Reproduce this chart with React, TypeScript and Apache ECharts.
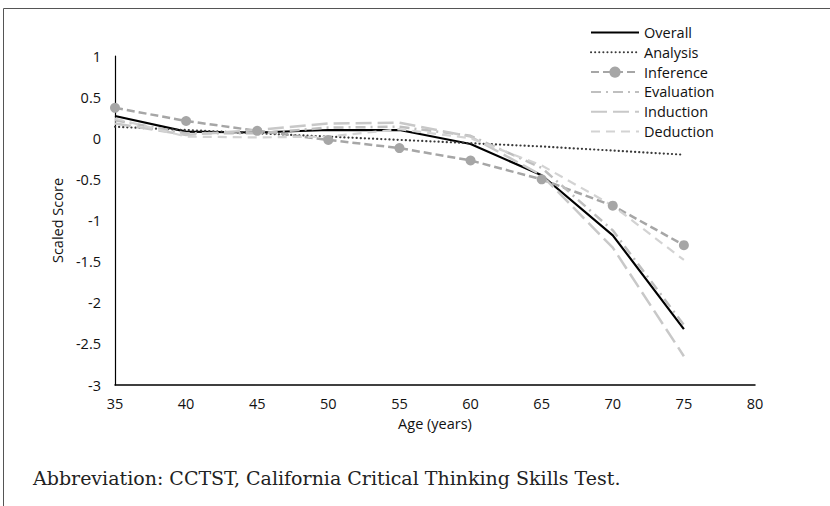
import React, { useEffect, useRef } from "react";
import * as echarts from "echarts";

const ages = [35, 40, 45, 50, 55, 60, 65, 70, 75];
const overall = [0.27, 0.08, 0.07, 0.1, 0.1, -0.07, -0.45, -1.18, -2.32];
const analysis = [0.14, 0.1, 0.06, 0.02, -0.02, -0.06, -0.1, -0.15, -0.2];
const inference = [0.37, 0.21, 0.09, -0.02, -0.12, -0.27, -0.5, -0.82, -1.3];
const evaluation = [0.22, 0.06, 0.06, 0.13, 0.14, 0.03, -0.36, -1.12, -2.27];
const induction = [0.18, 0.04, 0.1, 0.18, 0.19, 0.02, -0.45, -1.33, -2.65];
const deduction = [0.24, 0.02, 0.01, 0.02, 0.11, 0.0, -0.33, -0.82, -1.48];

const legendNames = ["Overall", "Analysis", "Inference", "Evaluation", "Induction", "Deduction"];

const xTicks = { min: 35, max: 80, interval: 5 };
const yTicks = { min: -3, max: 1, interval: 0.5 };

const pairs = (vals: number[]) => ages.map((a, i) => [a, vals[i]]);

const FONT = "Open Sans";

export default function App() {
  const ref = useRef<HTMLDivElement>(null);
  useEffect(() => {
    if (!ref.current) return;
    const chart = echarts.init(ref.current, undefined, { renderer: "svg" });
    const lineSeries = (
      name: string,
      vals: number[],
      color: string,
      width: number,
      type: any,
      extraLine: any = {}
    ) => ({
      name,
      type: "line",
      data: pairs(vals),
      symbol: "none",
      lineStyle: { color, width, type, ...extraLine },
      itemStyle: { color },
    });
    chart.setOption({
      animation: false,
      backgroundColor: "#ffffff",
      grid: { left: 115, right: 75, top: 56, bottom: 121, containLabel: false },
      legend: {
        orient: "vertical",
        left: 585,
        top: 20,
        itemWidth: 48,
        itemHeight: 14,
        itemGap: 4.8,
        textStyle: { fontFamily: FONT, fontSize: 14.5, color: "#111", lineHeight: 14 },
        data: legendNames.map((n) =>
          n === "Inference" ? { name: n } : { name: n, itemStyle: { opacity: 0 } }
        ),
      },
      xAxis: {
        type: "value",
        ...xTicks,
        name: "Age (years)",
        nameLocation: "middle",
        nameGap: 25,
        nameTextStyle: { fontFamily: FONT, fontSize: 14.5, color: "#111" },
        axisLine: { onZero: false, lineStyle: { color: "#000", width: 1.5 } },
        axisTick: { show: false },
        axisLabel: { fontFamily: FONT, fontSize: 14.5, color: "#111", margin: 11 },
        splitLine: { show: false },
      },
      yAxis: {
        type: "value",
        ...yTicks,
        name: "Scaled Score",
        nameLocation: "middle",
        nameGap: 44,
        nameTextStyle: { fontFamily: FONT, fontSize: 14.5, color: "#111" },
        axisLine: { show: true, lineStyle: { color: "#000", width: 1.2 } },
        axisTick: { show: false },
        axisLabel: { fontFamily: FONT, fontSize: 14.5, color: "#111", margin: 14 },
        splitLine: { show: false },
      },
      series: [
        lineSeries("Overall", overall, "#000000", 2.2, "solid"),
        lineSeries("Analysis", analysis, "#3a3a3a", 2.2, [0.1, 4], { cap: "round" }),
        {
          name: "Inference",
          type: "line",
          data: pairs(inference),
          symbol: "circle",
          symbolSize: 10,
          lineStyle: { color: "#a6a6a6", width: 2.5, type: [8, 4] },
          itemStyle: { color: "#a6a6a6" },
        },
        lineSeries("Evaluation", evaluation, "#bfbfbf", 2.5, [10, 5, 2, 5]),
        lineSeries("Induction", induction, "#c8c8c8", 2.5, [16, 6]),
        lineSeries("Deduction", deduction, "#d3d3d3", 2.2, [9, 6]),
      ],
      graphic: [
        {
          type: "line",
          shape: { x1: 3.5, y1: 8.5, x2: 830, y2: 8.5 },
          style: { stroke: "#555", lineWidth: 1 },
        },
        {
          type: "line",
          shape: { x1: 3.5, y1: 8.5, x2: 3.5, y2: 506 },
          style: { stroke: "#555", lineWidth: 1 },
        },
        {
          type: "text",
          left: 33,
          top: 468,
          style: {
            text: "Abbreviation: CCTST, California Critical Thinking Skills Test.",
            font: "19px 'DejaVu Serif'",
            fill: "#222",
          },
        },
      ],
    });
    return () => chart.dispose();
  }, []);
  return (
    <div
      ref={ref}
      style={{ position: "absolute", left: 0, top: 0, width: 830, height: 506 }}
    />
  );
}
